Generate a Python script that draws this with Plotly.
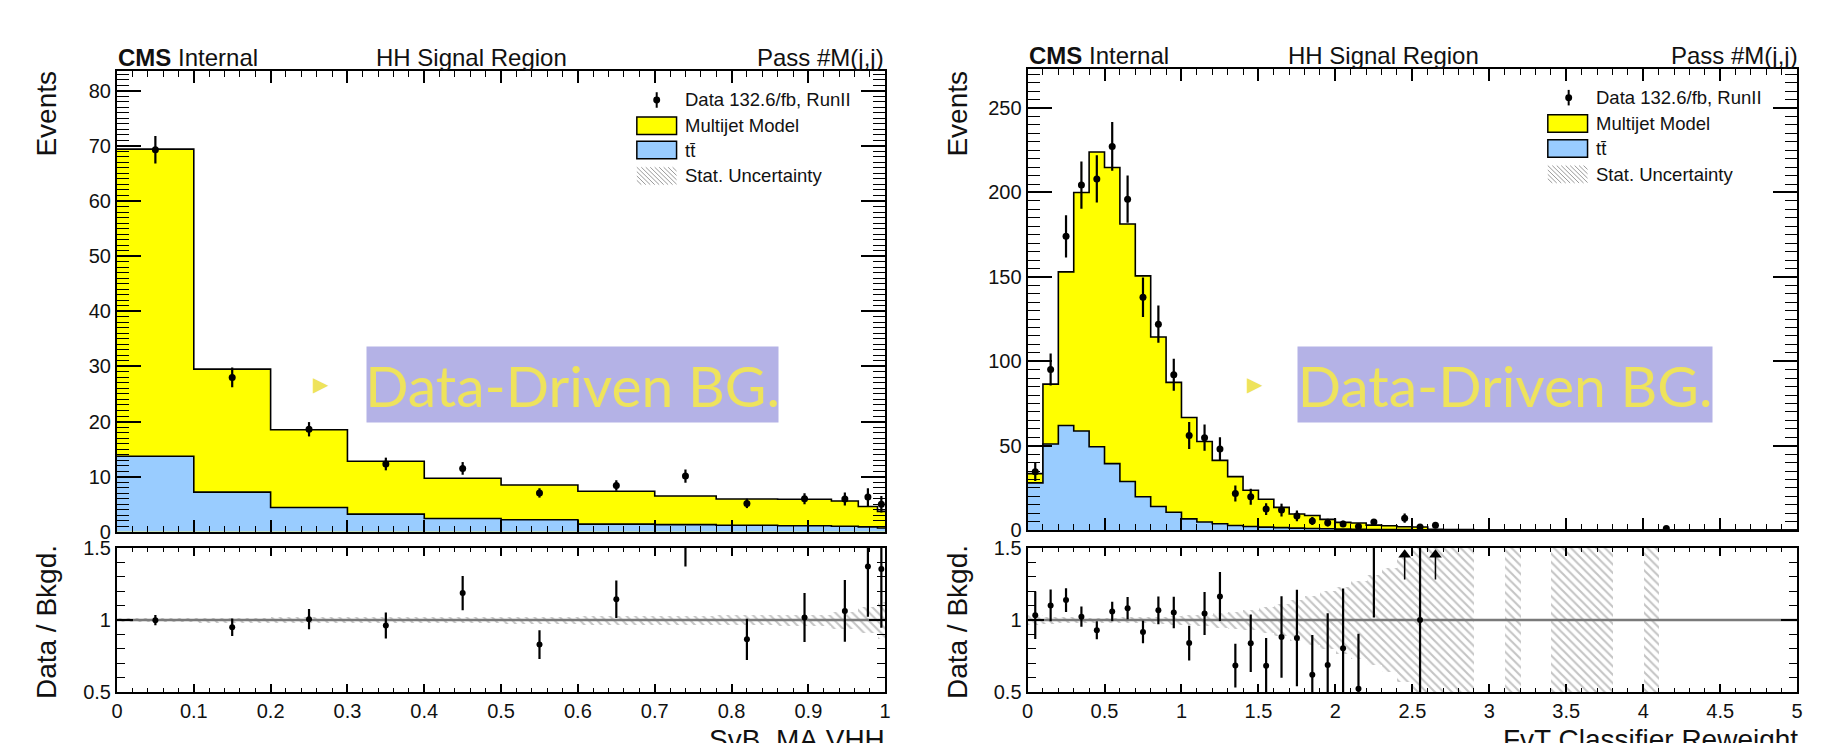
import numpy as np
import plotly.graph_objects as go

W, H = 1828, 743

# ---------------- Left panel: SvB_MA.VHH ----------------
svb_edges = [0.0, 0.1, 0.2, 0.3, 0.4, 0.5, 0.6, 0.7, 0.78, 0.86, 0.93, 0.965, 0.99, 1.0]
svb_multijet = [55.7, 22.3, 14.1, 9.6, 7.3, 6.3, 5.95, 5.2, 4.75, 4.8, 4.6, 3.7, 3.0]
svb_ttbar = [13.7, 7.2, 4.4, 3.2, 2.4, 2.2, 1.4, 1.3, 1.2, 1.1, 1.0, 0.9, 0.7]
svb_data = [69.3, 28.0, 18.6, 12.3, 11.5, 7.05, 8.4, 10.1, 5.15, 6.0, 5.95, 6.3, 5.0]
svb_data_err = [2.5, 1.8, 1.3, 1.15, 1.15, 0.85, 0.95, 1.2, 0.85, 1.0, 1.2, 1.6, 1.5]
svb_bkg_stat_rel = [0.015, 0.018, 0.02, 0.022, 0.022, 0.025, 0.03, 0.03, 0.035, 0.04, 0.06, 0.09, 0.13]

# ---------------- Right panel: FvT Classifier Reweight ----------------
fvt_edges = [round(0.1 * i, 1) for i in range(51)]
fvt_multijet = [5.5, 35.5, 91.0, 141.3, 174.6, 175.4, 152.5, 130.8, 100.4, 76.9,
                60.0, 47.7, 37.5, 28.9, 21.4, 16.5, 12.0, 8.4, 7.7, 5.6,
                4.0, 3.7, 2.6, 2.3, 1.7, 1.7, 0.4, 0.4, 0.3, 0.0,
                0.0, 0.2, 0.0, 0.0, 0.2, 0.15, 0.2, 0.1, 0.0, 0.0,
                0.1, 0.0, 0.0, 0.0, 0.0, 0.0, 0.0, 0.0, 0.0, 0.0]
fvt_ttbar = [28.0, 51.0, 62.0, 58.7, 49.4, 39.4, 28.8, 19.8, 14.0, 10.6,
             6.7, 4.8, 3.8, 2.8, 2.2, 1.8, 1.5, 1.2, 1.0, 0.8,
             0.6, 0.5, 0.4, 0.3, 0.3, 0.2, 0.1, 0.0, 0.0, 0.0,
             0.0, 0.0, 0.0, 0.0, 0.0, 0.0, 0.0, 0.0, 0.0, 0.0,
             0.0, 0.0, 0.0, 0.0, 0.0, 0.0, 0.0, 0.0, 0.0, 0.0]
fvt_data = [34.6, 95.2, 174.0, 204.4, 208.0, 227.3, 196.0, 138.0, 122.0, 92.0,
            56.0, 54.8, 48.0, 21.7, 19.8, 12.5, 11.9, 8.4, 5.4, 4.4,
            3.7, 2.2, 4.8, 0.0, 7.1, 1.9, 2.9, 0.0, 0.0, 0.0,
            0.0, 0.0, 0.0, 0.0, 0.0, 0.0, 0.0, 0.0, 0.0, 0.0,
            0.0, 1.0, 0.0, 0.0, 0.0, 0.0, 0.0, 0.0, 0.0, 0.0]
fvt_data_err = [5.5, 9.5, 12.5, 14.0, 14.0, 14.5, 14.0, 11.7, 11.0, 9.5,
                8.0, 7.8, 7.0, 4.8, 4.7, 3.5, 3.8, 3.2, 2.4, 2.3,
                1.9, 1.6, 1.75, 0.0, 2.7, 1.4, 1.7, 0.0, 0.0, 0.0,
                0.0, 0.0, 0.0, 0.0, 0.0, 0.0, 0.0, 0.0, 0.0, 0.0,
                0.0, 1.0, 0.0, 0.0, 0.0, 0.0, 0.0, 0.0, 0.0, 0.0]
fvt_bkg_stat_rel = [0.035, 0.025, 0.02, 0.018, 0.018, 0.018, 0.02, 0.022, 0.025, 0.03,
                    0.035, 0.04, 0.05, 0.06, 0.07, 0.09, 0.11, 0.14, 0.17, 0.2,
                    0.23, 0.27, 0.31, 0.36, 0.43, 0.6, 0.9, 1.0, 1.0, 0.0,
                    0.0, 1.0, 0.0, 0.0, 1.0, 1.0, 1.0, 1.0, 0.0, 0.0,
                    1.0, 0.0, 0.0, 0.0, 0.0, 0.0, 0.0, 0.0, 0.0, 0.0]

legend_labels = ["Data 132.6/fb, RunII", "Multijet Model", "tt\u0304", "Stat. Uncertainty"]

YELLOW = "#ffff00"
BLUE = "#99ccff"
FONT = "Liberation Sans, Arial, Helvetica, sans-serif"


def fx(px):
    return px / W


def fy(py):
    return 1 - py / H


fig = go.Figure()
shapes = []
annotations = []


def add_panel(edges, mj, tt, data, derr, brel, xa_main, ya_main, xa_rat, ya_rat):
    edges = np.array(edges, dtype=float)
    mj = np.array(mj, dtype=float)
    tt = np.array(tt, dtype=float)
    data = np.array(data, dtype=float)
    derr = np.array(derr, dtype=float)
    brel = np.array(brel, dtype=float)
    total = mj + tt
    centers = (edges[:-1] + edges[1:]) / 2
    widths = edges[1:] - edges[:-1]

    # stacked histograms (step outline)
    fig.add_trace(go.Scatter(x=edges, y=np.append(total, total[-1]), mode="lines",
                             line=dict(shape="hv", color="black", width=1.6),
                             fill="tozeroy", fillcolor=YELLOW, showlegend=False,
                             xaxis=xa_main, yaxis=ya_main, hoverinfo="skip"))
    fig.add_trace(go.Scatter(x=edges, y=np.append(tt, tt[-1]), mode="lines",
                             line=dict(shape="hv", color="black", width=1.6),
                             fill="tozeroy", fillcolor=BLUE, showlegend=False,
                             xaxis=xa_main, yaxis=ya_main, hoverinfo="skip"))
    m = data > 0
    fig.add_trace(go.Scatter(x=centers[m], y=data[m], mode="markers",
                             marker=dict(symbol="circle", size=7, color="black"),
                             error_y=dict(type="data", array=derr[m], thickness=2.2, width=0, color="black"),
                             showlegend=False, xaxis=xa_main, yaxis=ya_main))

    # ratio panel: stat band
    b = brel > 0
    fig.add_trace(go.Bar(x=centers[b], y=2 * brel[b], base=1 - brel[b], width=widths[b],
                         marker=dict(color="rgba(0,0,0,0)", line=dict(width=0),
                                     pattern=dict(shape="\\", fgcolor="#8a8a8a", bgcolor="rgba(0,0,0,0)",
                                                  size=6, solidity=0.35)),
                         showlegend=False, xaxis=xa_rat, yaxis=ya_rat, hoverinfo="skip"))
    fig.add_trace(go.Scatter(x=[edges[0], edges[-1]], y=[1, 1], mode="lines",
                             line=dict(color="#7a7a7a", width=2.5), showlegend=False,
                             xaxis=xa_rat, yaxis=ya_rat, hoverinfo="skip"))
    r_ok = (data > 0) & (total > 0)
    ratio = np.where(r_ok, data / np.where(total > 0, total, 1), 0)
    rerr = np.where(r_ok, derr / np.where(total > 0, total, 1), 0)
    over = r_ok & (ratio - rerr > 1.5)
    norm = r_ok & ~over
    fig.add_trace(go.Scatter(x=centers[norm], y=ratio[norm], mode="markers",
                             marker=dict(symbol="circle", size=6, color="black"),
                             error_y=dict(type="data", array=rerr[norm], thickness=2.2, width=0, color="black"),
                             showlegend=False, xaxis=xa_rat, yaxis=ya_rat))
    if over.any():
        n = int(over.sum())
        fig.add_trace(go.Scatter(x=centers[over], y=[1.45] * n, mode="markers",
                                 marker=dict(symbol="triangle-up", size=11, color="black"),
                                 error_y=dict(type="data", symmetric=False, array=[0] * n,
                                              arrayminus=[0.17] * n, thickness=1.5, width=0, color="black"),
                                 showlegend=False, xaxis=xa_rat, yaxis=ya_rat))


add_panel(svb_edges, svb_multijet, svb_ttbar, svb_data, svb_data_err, svb_bkg_stat_rel, "x", "y", "x3", "y3")
add_panel(fvt_edges, fvt_multijet, fvt_ttbar, fvt_data, fvt_data_err, fvt_bkg_stat_rel, "x2", "y2", "x4", "y4")

# ---------------- geometry ----------------
L_x = [fx(111.7), fx(885)]
R_x = [fx(1028.3), fx(1803)]
L_main_y = [fy(536.7), fy(61.7)]
R_main_y = [fy(535), fy(59.3)]
rat_y = [fy(702), fy(553)]

axis_common = dict(showline=True, linewidth=2, linecolor="black", mirror="allticks",
                   ticks="inside", tickwidth=1.5, tickcolor="black", showgrid=False, zeroline=False,
                   tickfont=dict(family=FONT, size=20, color="#111"))


def xaxis(domain, anchor, rng, dtick, minor, len_major, len_minor, labels):
    d = dict(axis_common)
    d.update(domain=domain, anchor=anchor, range=rng, dtick=dtick, tick0=0, ticklen=len_major,
             showticklabels=labels,
             minor=dict(ticks="inside", dtick=minor, tick0=0, ticklen=len_minor, tickwidth=1.2,
                        tickcolor="black", showgrid=False))
    return d


def yaxis(domain, anchor, rng, dtick, minor, len_major, len_minor):
    d = dict(axis_common)
    d.update(domain=domain, anchor=anchor, range=rng, dtick=dtick, tick0=0, ticklen=len_major,
             minor=dict(ticks="inside", dtick=minor, tick0=0, ticklen=len_minor, tickwidth=1.2,
                        tickcolor="black", showgrid=False))
    return d


fig.update_layout(
    xaxis=xaxis(L_x, "y", [0, 1], 0.1, 0.02, 12, 6, False),
    yaxis=yaxis(L_main_y, "x", [0, 83.6], 10, 1, 24, 12),
    xaxis2=xaxis(R_x, "y2", [0, 5], 0.5, 0.1, 12, 6, False),
    yaxis2=yaxis(R_main_y, "x2", [0, 273.4], 50, 5, 24, 12),
    xaxis3=xaxis(L_x, "y3", [0, 1], 0.1, 0.02, 8, 4, True),
    yaxis3=yaxis(rat_y, "x3", [0.5, 1.5], 0.5, 0.1, 16, 8),
    xaxis4=xaxis(R_x, "y4", [0, 5], 0.5, 0.1, 8, 4, True),
    yaxis4=yaxis(rat_y, "x4", [0.5, 1.5], 0.5, 0.1, 16, 8),
)

# ---------------- texts ----------------
def ann(text, x, y, size, xanchor="center", yanchor="middle", angle=0, color="#111", family=FONT, **kw):
    a = dict(text=text, x=fx(x), y=fy(y), xref="paper", yref="paper", showarrow=False,
             xanchor=xanchor, yanchor=yanchor, textangle=angle,
             font=dict(family=family, size=size, color=color), borderpad=0)
    a.update(kw)
    annotations.append(a)


for (x0, x1, top, tick_hh) in [(111.7, 885, 61.7, 371), (1028.3, 1805, 59.3, 1289)]:
    ann("<b>CMS</b> Internal", x0, top + 1, 24, xanchor="left", yanchor="bottom")
    ann("HH Signal Region", tick_hh, top + 1, 24, xanchor="left", yanchor="bottom")
    ann("Pass #M(j,j)", x1, top + 1, 24, xanchor="right", yanchor="bottom")

for cx in [41, 958]:
    ann("Events", cx, 106, 28, angle=-90)
    ann("Data / Bkgd.", cx, 630, 28, angle=-90)

ann("SvB_MA.VHH", 886, 734, 28, xanchor="right", yanchor="top")
ann("FvT Classifier Reweight", 1805, 734, 28, xanchor="right", yanchor="top")

# watermark boxes
for (bx0, bx1, tx) in [(365, 776, 317), (1302, 1716, 1257)]:
    ann("Data-Driven BG.", (bx0 + bx1) / 2, 385, 57, color="#eee35c", family="Lato, Noto Sans, sans-serif",
        bgcolor="#b4b2e6", width=bx1 - bx0, height=75)
    ann("\u25B6", tx, 384, 20, color="#eee35c", family="DejaVu Sans")

# legends (drawn manually, ROOT style)
for (bx0, bx1, tx, mx, rows) in [(635, 675, 682, 655, [91.7, 118.3, 143.3, 170.0]),
                                  (1552, 1592, 1600, 1573, [89.3, 116.0, 141.7, 168.3])]:
    for lab, ry in zip(legend_labels, rows):
        ann(lab, tx, ry, 18.5, xanchor="left")
    shapes.append(dict(type="line", xref="paper", yref="paper", x0=fx(mx), x1=fx(mx),
                       y0=fy(rows[0] - 8), y1=fy(rows[0] + 8), line=dict(color="black", width=2)))
    shapes.append(dict(type="circle", xref="paper", yref="paper", x0=fx(mx - 3.5), x1=fx(mx + 3.5),
                       y0=fy(rows[0] + 3.5), y1=fy(rows[0] - 3.5), fillcolor="black", line=dict(width=0)))
    for col, ry in [(YELLOW, rows[1]), (BLUE, rows[2])]:
        shapes.append(dict(type="rect", xref="paper", yref="paper", x0=fx(bx0), x1=fx(bx1),
                           y0=fy(ry + 9), y1=fy(ry - 9), fillcolor=col, line=dict(color="black", width=1.5)))
    ytop, ybot = rows[3] - 9, rows[3] + 9
    h = ybot - ytop
    for d in np.arange(-h, bx1 - bx0, 4.5):
        sx, sy = bx0 + d, ytop
        ex, ey = bx0 + d + h, ybot
        if sx < bx0:
            sy += bx0 - sx
            sx = bx0
        if ex > bx1:
            ey -= ex - bx1
            ex = bx1
        shapes.append(dict(type="line", xref="paper", yref="paper", x0=fx(sx), x1=fx(ex),
                           y0=fy(sy), y1=fy(ey), line=dict(color="#9a9a9a", width=1)))

fig.update_layout(
    width=W, height=H, margin=dict(l=0, r=0, t=0, b=0),
    paper_bgcolor="white", plot_bgcolor="white",
    bargap=0, barmode="overlay", showlegend=False,
    shapes=shapes, annotations=annotations,
    font=dict(family=FONT, color="#111"),
)

fig.write_html("out.html", config={"displayModeBar": False},
               post_script="document.body.style.margin='0';document.body.style.padding='0';"
                           "document.body.style.overflow='hidden';")
